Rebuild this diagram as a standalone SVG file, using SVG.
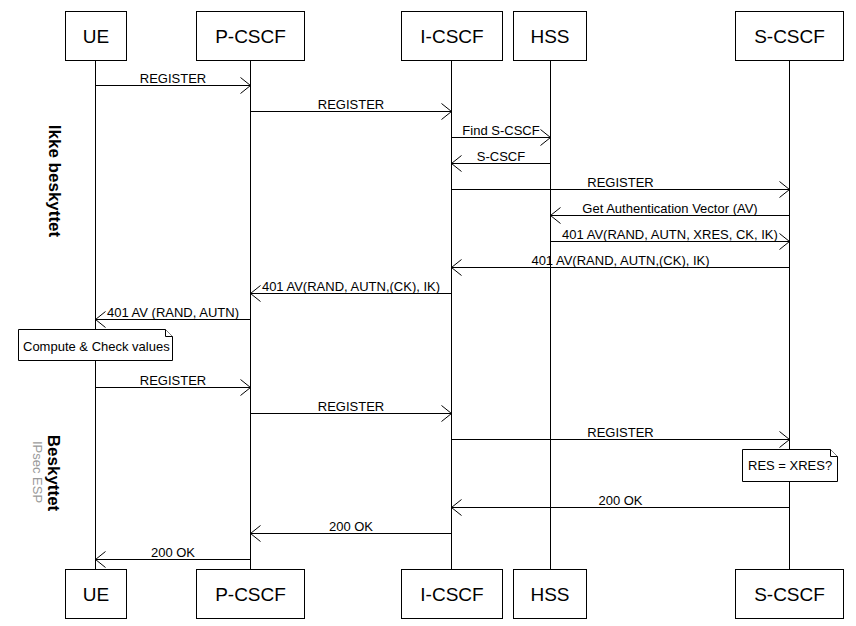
<svg xmlns="http://www.w3.org/2000/svg" width="856" height="626" viewBox="0 0 856 626">
<defs>
<marker id="arr" markerUnits="userSpaceOnUse" markerWidth="12" markerHeight="18" viewBox="0 0 12 18" refX="11" refY="9" orient="auto">
<path d="M1,1 L11,9 L1,17" fill="none" stroke="#000" stroke-width="1"/>
</marker>
<style>
.box{fill:#fff;stroke:#000;stroke-width:1}
.bt{font-family:"Liberation Sans",Arial,sans-serif;font-size:19px;text-anchor:middle;fill:#000}
.life{stroke:#000;stroke-width:1;fill:none}
.msg{stroke:#000;stroke-width:1;fill:none;marker-end:url(#arr)}
.ml{font-family:"Liberation Sans",Arial,sans-serif;font-size:13px;text-anchor:middle;fill:#000}
.note{fill:#fff;stroke:#000;stroke-width:1}
.nt{font-family:"Liberation Sans",Arial,sans-serif;font-size:13px;fill:#000}
.side{font-family:"Liberation Sans",Arial,sans-serif;font-size:17px;font-weight:bold;text-anchor:middle;fill:#000}
.sub{font-family:"Liberation Sans",Arial,sans-serif;font-size:13px;text-anchor:middle;fill:#999}
</style>
</defs>
<rect width="856" height="626" fill="#fff"/>
<g id="lifelines">
<line class="life" x1="95.5" y1="60" x2="95.5" y2="569"/>
<line class="life" x1="250.5" y1="60" x2="250.5" y2="569"/>
<line class="life" x1="451.5" y1="60" x2="451.5" y2="569"/>
<line class="life" x1="550.5" y1="60" x2="550.5" y2="569"/>
<line class="life" x1="789.5" y1="60" x2="789.5" y2="569"/>
</g>
<g id="node-UE"><rect class="box" x="65.5" y="11.5" width="61" height="49"/><text class="bt" x="96" y="43">UE</text>
<rect class="box" x="65.5" y="569.5" width="61" height="49"/><text class="bt" x="96" y="601">UE</text></g>
<g id="node-PCSCF"><rect class="box" x="196.5" y="11.5" width="108" height="49"/><text class="bt" x="250.5" y="43">P-CSCF</text>
<rect class="box" x="196.5" y="569.5" width="108" height="49"/><text class="bt" x="250.5" y="601">P-CSCF</text></g>
<g id="node-ICSCF"><rect class="box" x="401.5" y="11.5" width="101" height="49"/><text class="bt" x="452" y="43">I-CSCF</text>
<rect class="box" x="401.5" y="569.5" width="101" height="49"/><text class="bt" x="452" y="601">I-CSCF</text></g>
<g id="node-HSS"><rect class="box" x="513.5" y="11.5" width="73" height="49"/><text class="bt" x="550" y="43">HSS</text>
<rect class="box" x="513.5" y="569.5" width="73" height="49"/><text class="bt" x="550" y="601">HSS</text></g>
<g id="node-SCSCF"><rect class="box" x="735.5" y="11.5" width="108" height="49"/><text class="bt" x="789.5" y="43">S-CSCF</text>
<rect class="box" x="735.5" y="569.5" width="108" height="49"/><text class="bt" x="789.5" y="601">S-CSCF</text></g>
<g id="connectors">
<line class="msg" x1="95.5" y1="85.5" x2="250.5" y2="85.5"/><text class="ml" x="173" y="83">REGISTER</text>
<line class="msg" x1="250.5" y1="111.5" x2="451.5" y2="111.5"/><text class="ml" x="351" y="109">REGISTER</text>
<line class="msg" x1="451.5" y1="137.5" x2="550.5" y2="137.5"/><text class="ml" x="501" y="135">Find S-CSCF</text>
<line class="msg" x1="550.5" y1="163.5" x2="451.5" y2="163.5"/><text class="ml" x="501" y="161">S-CSCF</text>
<line class="msg" x1="451.5" y1="189.5" x2="789.5" y2="189.5"/><text class="ml" x="620.5" y="187">REGISTER</text>
<line class="msg" x1="789.5" y1="215.5" x2="550.5" y2="215.5"/><text class="ml" x="670" y="213">Get Authentication Vector (AV)</text>
<line class="msg" x1="550.5" y1="241.5" x2="789.5" y2="241.5"/><text class="ml" x="670" y="239">401 AV(RAND, AUTN, XRES, CK, IK)</text>
<line class="msg" x1="789.5" y1="267.5" x2="451.5" y2="267.5"/><text class="ml" x="620.5" y="265">401 AV(RAND, AUTN,(CK), IK)</text>
<line class="msg" x1="451.5" y1="293.5" x2="250.5" y2="293.5"/><text class="ml" x="351" y="291">401 AV(RAND, AUTN,(CK), IK)</text>
<line class="msg" x1="250.5" y1="319.5" x2="95.5" y2="319.5"/><text class="ml" x="173" y="317">401 AV (RAND, AUTN)</text>
<line class="msg" x1="95.5" y1="387.5" x2="250.5" y2="387.5"/><text class="ml" x="173" y="385">REGISTER</text>
<line class="msg" x1="250.5" y1="413.5" x2="451.5" y2="413.5"/><text class="ml" x="351" y="411">REGISTER</text>
<line class="msg" x1="451.5" y1="439.5" x2="789.5" y2="439.5"/><text class="ml" x="620.5" y="437">REGISTER</text>
<line class="msg" x1="789.5" y1="507.5" x2="451.5" y2="507.5"/><text class="ml" x="620.5" y="505">200 OK</text>
<line class="msg" x1="451.5" y1="533.5" x2="250.5" y2="533.5"/><text class="ml" x="351" y="531">200 OK</text>
<line class="msg" x1="250.5" y1="559.5" x2="95.5" y2="559.5"/><text class="ml" x="173" y="557">200 OK</text>
</g>
<g id="note-compute">
<path class="note" d="M18.5,329.5 H165.5 L172.5,336.5 V360.5 H18.5 Z"/>
<path class="note" d="M165.5,329.5 V336.5 H172.5" fill="none"/>
<text class="nt" x="23" y="351">Compute &amp; Check values</text>
</g>
<g id="note-res">
<path class="note" d="M742.5,449.5 H830.5 L837.5,456.5 V481.5 H742.5 Z"/>
<path class="note" d="M830.5,449.5 V456.5 H837.5" fill="none"/>
<text class="nt" x="748" y="470">RES = XRES?</text>
</g>
<g id="side-labels">
<text class="side" transform="translate(49,181) rotate(90)">Ikke beskyttet</text>
<text class="side" transform="translate(48,473) rotate(90)">Beskyttet</text>
<text class="sub" transform="translate(32.5,472) rotate(90)">IPsec ESP</text>
</g>
</svg>
